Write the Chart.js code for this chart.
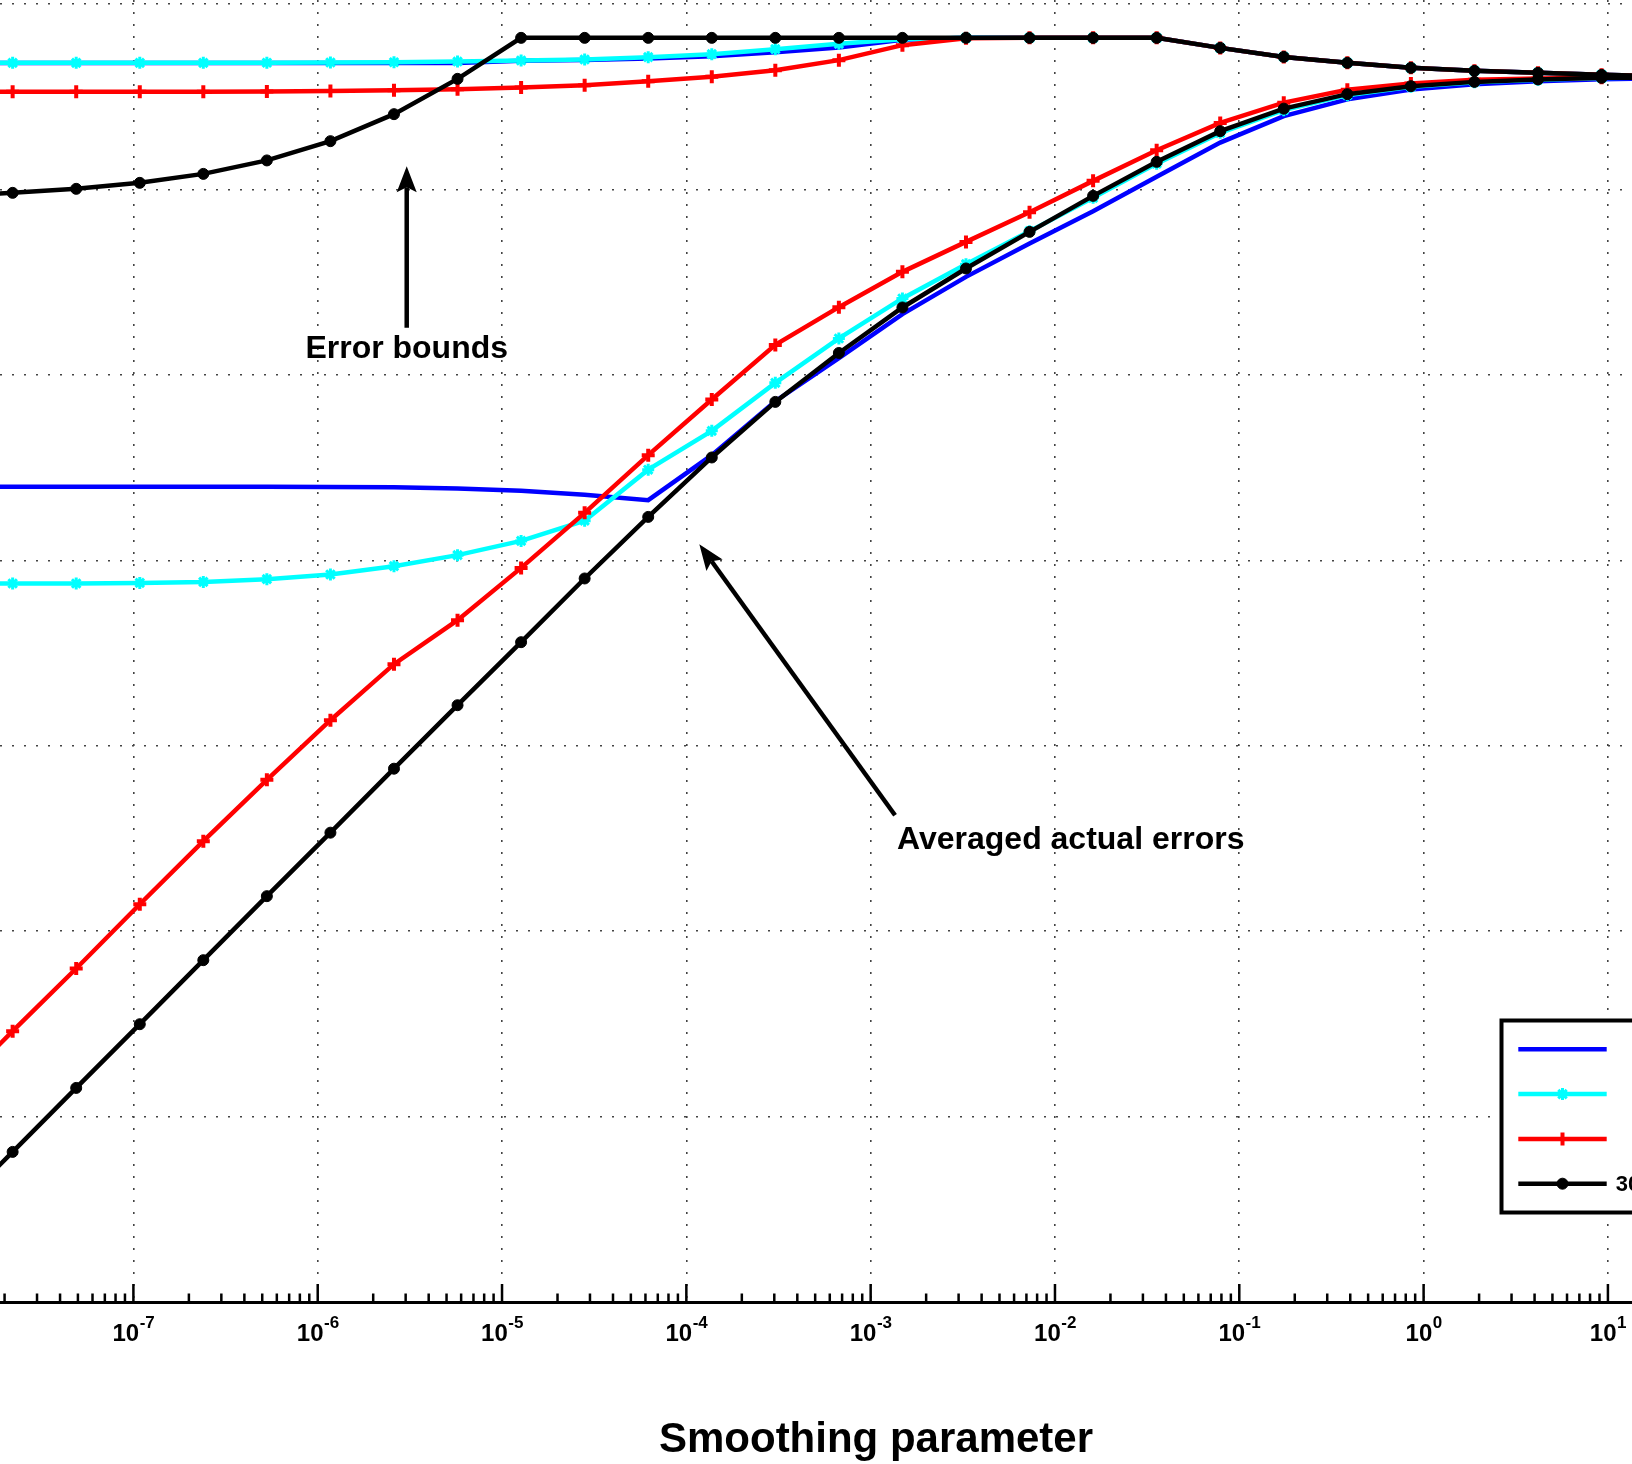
<!doctype html>
<html>

<head>
    <meta charset="utf-8">
    <title>Smoothing parameter</title>
    <script src="https://cdn.jsdelivr.net/npm/chart.js@4.4.1/dist/chart.umd.min.js"></script>
    <style>
        html, body { margin: 0; padding: 0; background: #fff; }
        canvas { display: block; }
    </style>
</head>

<body>
    <canvas id="chart-area" width="1632" height="1464"></canvas>
    <script>
    // smoothing parameter values
    var lambda = [1.000e-8, 2.212e-8, 4.894e-8, 1.083e-7, 2.395e-7, 5.298e-7, 1.172e-6, 2.593e-6, 5.736e-6,
        1.269e-5, 2.807e-5, 6.210e-5, 1.374e-4, 3.039e-4, 6.723e-4, 1.487e-3, 3.290e-3, 7.279e-3,
        0.01610, 0.03562, 0.07880, 0.1743, 0.3857, 0.8532, 1.887, 4.175, 9.237, 20.43];

    // error bounds
    var boundBlue = [0.481, 0.481, 0.481, 0.481, 0.481, 0.481, 0.481, 0.481, 0.481, 0.4958, 0.500, 0.5094, 0.5242, 0.5509,
        0.5839, 0.6435, 0.658, 0.658, 0.658, 0.658, 0.581, 0.5195, 0.4825, 0.4533, 0.4367, 0.426, 0.4156, 0.409];
    var boundCyan = [0.4825, 0.4825, 0.4825, 0.4825, 0.4825, 0.483, 0.4842, 0.486, 0.4902, 0.4969, 0.5031, 0.5177, 0.5374, 0.5719,
        0.6107, 0.6475, 0.658, 0.658, 0.658, 0.658, 0.581, 0.5195, 0.4825, 0.4533, 0.4367, 0.426, 0.4156, 0.409];
    var boundRed = [0.3365, 0.3365, 0.3365, 0.3365, 0.3365, 0.3378, 0.3403, 0.3437, 0.348, 0.3554, 0.3657, 0.3843, 0.4054, 0.4406,
        0.4989, 0.601, 0.655, 0.658, 0.658, 0.658, 0.581, 0.5195, 0.4825, 0.4533, 0.4367, 0.426, 0.4156, 0.409];
    var boundBlack = [0.0927, 0.0960, 0.1009, 0.1087, 0.1215, 0.1436, 0.1824, 0.2551, 0.3955, 0.658, 0.658, 0.658, 0.658, 0.658,
        0.658, 0.658, 0.658, 0.658, 0.658, 0.658, 0.581, 0.5195, 0.4825, 0.4533, 0.4367, 0.426, 0.4156, 0.409];

    // averaged actual errors
    var errBlue = [2.497e-3, 2.497e-3, 2.497e-3, 2.497e-3, 2.497e-3, 2.497e-3, 2.491e-3, 2.476e-3, 2.442e-3, 2.376e-3,
        2.261e-3, 2.112e-3, 3.693e-3, 7.222e-3, 0.01232, 0.02128, 0.03382, 0.0512, 0.07647, 0.1171, 0.1791, 0.2488,
        0.3065, 0.3467, 0.3703, 0.3843, 0.394, 0.399];
    var errCyan = [7.505e-4, 7.505e-4, 7.505e-4, 7.561e-4, 7.656e-4, 7.918e-4, 8.393e-4, 9.305e-4, 1.067e-3, 1.274e-3,
        1.637e-3, 3.084e-3, 4.995e-3, 9.066e-3, 0.01574, 0.02586, 0.03959, 0.05965, 0.0902, 0.138, 0.2022, 0.2681,
        0.323, 0.3589, 0.3796, 0.3916, 0.3999, 0.4019];
    var errRed = [1.304e-6, 2.888e-6, 6.293e-6, 1.398e-5, 3.058e-5, 6.556e-5, 1.374e-4, 2.755e-4, 4.758e-4, 9.11e-4,
        1.804e-3, 3.693e-3, 7.377e-3, 0.01453, 0.02321, 0.03599, 0.05222, 0.07552, 0.1114, 0.1631, 0.2289, 0.2943,
        0.3451, 0.3735, 0.3915, 0.3974, 0.4009, 0.4024];
    var errBlack = [2.921e-7, 6.451e-7, 1.428e-6, 3.150e-6, 6.977e-6, 1.545e-5, 3.399e-5, 7.524e-5, 1.655e-4, 3.621e-4,
        7.987e-4, 1.716e-3, 3.589e-3, 7.159e-3, 0.01314, 0.02312, 0.03753, 0.05913, 0.09247, 0.1411, 0.2065, 0.2732,
        0.327, 0.3612, 0.3809, 0.3926, 0.4005, 0.4019];

    var legendLabels = ['', '', '', '30'];
    var xTicks = [1e-8, 1e-7, 1e-6, 1e-5, 1e-4, 1e-3, 1e-2, 1e-1, 1e0, 1e1, 1e2];
    var yTicks = [1e-7, 1e-6, 1e-5, 1e-4, 1e-3, 1e-2, 1e-1, 1e0];
    var xTitle = 'Smoothing parameter';

    // text arrows, in data coordinates
    var notes = [
        { text: 'Error bounds', tail: [3.04e-6, 0.01795], head: [3.04e-6, 0.1337], at: [3.04e-6, 0.01232], align: 'center' },
        { text: 'Averaged actual errors', tail: [1.356e-3, 4.222e-5], head: [1.176e-4, 1.223e-3], at: [1.39e-3, 2.77e-5], align: 'left' }
    ];

    var FONT = "'Liberation Sans', Arial, Helvetica, sans-serif";

    var points = function(ys) {
        return lambda.map(function(x, i) { return { x: x, y: ys[i] }; });
    };

    var styles = [
        { color: '#0000ff', pointStyle: 'circle', radius: 0, width: 0, order: 4 },
        { color: '#00ffff', pointStyle: 'star', radius: 6, width: 3, order: 3 },
        { color: '#ff0000', pointStyle: 'cross', radius: 6.5, width: 4, order: 2 },
        { color: '#000000', pointStyle: 'circle', radius: 5.5, width: 1, order: 1 }
    ];

    var makeSet = function(label, ys, s) {
        return {
            label: label,
            data: points(ys),
            borderColor: s.color,
            backgroundColor: s.color,
            borderWidth: 4.5,
            pointStyle: s.pointStyle,
            pointRadius: s.radius,
            pointBorderWidth: s.width,
            pointBorderColor: s.color,
            pointBackgroundColor: s.color,
            tension: 0,
            fill: false,
            order: s.order
        };
    };

    var datasets = [
        makeSet('bound', boundBlue, styles[0]), makeSet(legendLabels[0], errBlue, styles[0]),
        makeSet('bound', boundCyan, styles[1]), makeSet(legendLabels[1], errCyan, styles[1]),
        makeSet('bound', boundRed, styles[2]), makeSet(legendLabels[2], errRed, styles[2]),
        makeSet('bound', boundBlack, styles[3]), makeSet(legendLabels[3], errBlack, styles[3])
    ];

    var drawArrow = function(ctx, x0, y0, x1, y1) {
        var dx = x1 - x0, dy = y1 - y0, len = Math.sqrt(dx * dx + dy * dy);
        var ux = dx / len, uy = dy / len, nx = -uy, ny = ux;
        var headLen = 26, headW = 10, notch = 21;
        ctx.beginPath();
        ctx.moveTo(x0, y0);
        ctx.lineTo(x1 - ux * notch, y1 - uy * notch);
        ctx.stroke();
        ctx.beginPath();
        ctx.moveTo(x1, y1);
        ctx.lineTo(x1 - ux * headLen + nx * headW, y1 - uy * headLen + ny * headW);
        ctx.lineTo(x1 - ux * notch, y1 - uy * notch);
        ctx.lineTo(x1 - ux * headLen - nx * headW, y1 - uy * headLen - ny * headW);
        ctx.closePath();
        ctx.fill();
    };

    var decorations = {
        id: 'decorations',
        afterDraw: function(chart) {
            var ctx = chart.ctx, xs = chart.scales.x, ys = chart.scales.y, area = chart.chartArea;
            ctx.save();

            // inward tick marks (major and minor)
            ctx.strokeStyle = '#000';
            ctx.lineWidth = 2.5;
            ctx.beginPath();
            var e0 = Math.floor(Math.log10(xs.min)), e1 = Math.ceil(Math.log10(xs.max));
            for (var e = e0; e <= e1; e++) {
                for (var m = 1; m <= 9; m++) {
                    var v = m * Math.pow(10, e);
                    if (v < xs.min || v > xs.max) continue;
                    var px = xs.getPixelForValue(v);
                    ctx.moveTo(px, area.bottom);
                    ctx.lineTo(px, area.bottom - (m === 1 ? 18 : 8.5));
                }
            }
            ctx.stroke();

            // tick labels 10^n
            ctx.fillStyle = '#000';
            ctx.textBaseline = 'alphabetic';
            ctx.textAlign = 'left';
            xTicks.forEach(function(t) {
                if (t < xs.min || t > xs.max) return;
                var px = xs.getPixelForValue(t);
                var ex = String(Math.round(Math.log10(t)));
                ctx.font = 'bold 24px ' + FONT;
                var wb = ctx.measureText('10').width;
                ctx.font = 'bold 17px ' + FONT;
                var we = ctx.measureText(ex).width;
                var x0 = px - (wb + we) / 2;
                ctx.font = 'bold 24px ' + FONT;
                ctx.fillText('10', x0, area.bottom + 39);
                ctx.font = 'bold 17px ' + FONT;
                ctx.fillText(ex, x0 + wb + 0.5, area.bottom + 25.5);
            });

            // axis title
            ctx.font = 'bold 42px ' + FONT;
            ctx.textAlign = 'center';
            ctx.fillText(xTitle, 876, 1452);

            // annotations
            ctx.strokeStyle = '#000';
            ctx.lineWidth = 4.5;
            notes.forEach(function(n) {
                drawArrow(ctx,
                    xs.getPixelForValue(n.tail[0]), ys.getPixelForValue(n.tail[1]),
                    xs.getPixelForValue(n.head[0]), ys.getPixelForValue(n.head[1]));
                ctx.font = 'bold 32px ' + FONT;
                ctx.textAlign = n.align;
                ctx.fillText(n.text, xs.getPixelForValue(n.at[0]), ys.getPixelForValue(n.at[1]));
            });

            // legend
            var left = 1501.5, top = 1020.5, bottom = 1212.5;
            ctx.fillStyle = '#fff';
            ctx.fillRect(left, top, chart.width, bottom - top);
            ctx.strokeStyle = '#000';
            ctx.lineWidth = 4;
            ctx.strokeRect(left, top, chart.width, bottom - top);
            for (var i = 0; i < 4; i++) {
                var s = styles[i], yy = 1049.3 + i * 44.8;
                ctx.strokeStyle = s.color;
                ctx.fillStyle = s.color;
                ctx.lineWidth = 4.5;
                ctx.beginPath();
                ctx.moveTo(1518.3, yy);
                ctx.lineTo(1606.7, yy);
                ctx.stroke();
                if (s.radius > 0) {
                    ctx.lineWidth = s.width;
                    Chart.helpers.drawPoint(ctx, { pointStyle: s.pointStyle, radius: s.radius, borderWidth: s.width, rotation: 0 }, 1562.5, yy);
                }
                ctx.fillStyle = '#000';
                ctx.font = 'bold 22px ' + FONT;
                ctx.textAlign = 'left';
                ctx.textBaseline = 'middle';
                ctx.fillText(legendLabels[i], 1615.7, yy + 1);
            }
            ctx.restore();
        }
    };

    var keepTicks = function(list) {
        return function(scale) {
            scale.ticks = list.filter(function(v) { return v >= scale.min && v <= scale.max; })
                .map(function(v) { return { value: v }; });
        };
    };

    var config = {
        type: 'line',
        data: { datasets: datasets },
        options: {
            responsive: false,
            animation: false,
            events: [],
            layout: { autoPadding: false, padding: { left: 0, right: 0, top: 0, bottom: 162 } },
            plugins: {
                legend: { display: false },
                tooltip: { enabled: false },
                title: { display: false }
            },
            scales: {
                x: {
                    type: 'logarithmic',
                    min: 1.889e-8,
                    max: 13.51,
                    ticks: { display: false },
                    grid: { color: '#444', lineWidth: 1.6, drawTicks: false },
                    border: { display: true, color: '#000', width: 3, dash: [2, 10] },
                    afterBuildTicks: keepTicks(xTicks)
                },
                y: {
                    type: 'logarithmic',
                    min: 1e-7,
                    max: 1.053,
                    ticks: { display: false },
                    grid: { color: '#444', lineWidth: 1.6, drawTicks: false },
                    border: { display: false, dash: [2, 10] },
                    afterBuildTicks: keepTicks(yTicks)
                }
            }
        },
        plugins: [decorations]
    };

    window.onload = function() {
        var ctx = document.getElementById('chart-area').getContext('2d');
        window.myChart = new Chart(ctx, config);
    };
    </script>
</body>

</html>
